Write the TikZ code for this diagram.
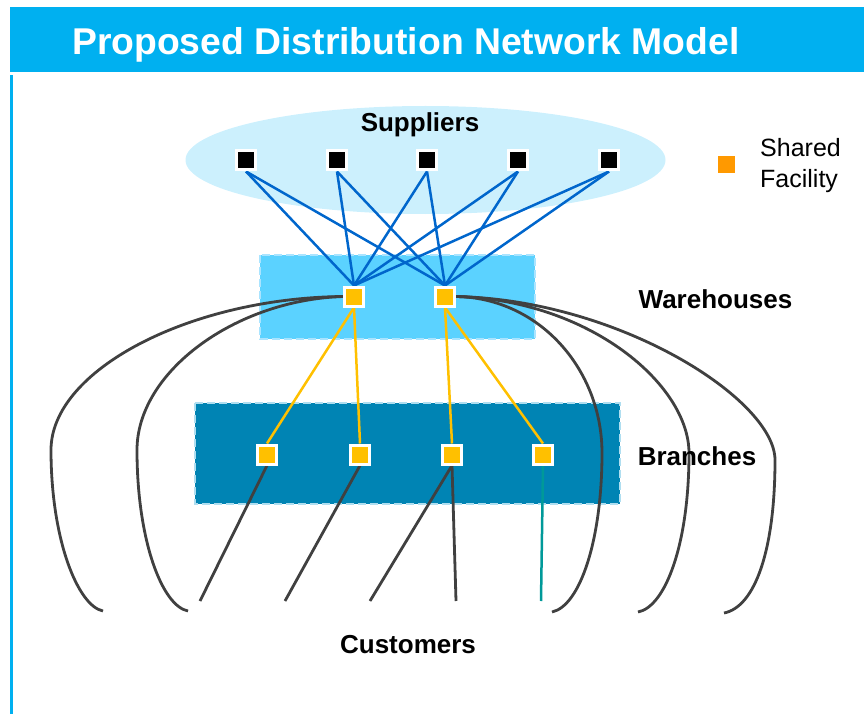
\documentclass[tikz,border=0pt]{standalone}
\usepackage{fontspec}
\setmainfont{Liberation Sans}
\usetikzlibrary{shapes.geometric}

\definecolor{barblue}{RGB}{0,176,240}
\definecolor{suppfill}{RGB}{204,240,253}
\definecolor{whfill}{RGB}{91,210,255}
\definecolor{whdash}{RGB}{170,228,255}
\definecolor{brfill}{RGB}{0,132,180}
\definecolor{brdash}{RGB}{175,222,240}
\definecolor{linkblue}{RGB}{0,102,204}
\definecolor{facility}{RGB}{255,192,0}
\definecolor{legendorange}{RGB}{255,153,0}
\definecolor{darkline}{RGB}{64,64,64}
\definecolor{tealline}{RGB}{0,153,153}

\pgfdeclarelayer{bg}
\pgfdeclarelayer{edges}
\pgfsetlayers{bg,edges,main}

\tikzset{
  supplier/.style={rectangle, fill=black, draw=white, line width=3pt,
    minimum size=19pt, inner sep=0pt},
  site/.style={rectangle, fill=facility, draw=white, line width=3pt,
    minimum size=19pt, inner sep=0pt},
  tierlabel/.style={font=\bfseries\fontsize{26}{30}\selectfont, text=black,
    inner sep=0pt, anchor=base},
  supplylink/.style={draw=linkblue, line width=2.5pt},
  feedlink/.style={draw=facility, line width=2.5pt},
  custlink/.style={draw=darkline, line width=2.8pt},
  directlink/.style={draw=darkline, line width=2.8pt},
  tealink/.style={draw=tealline, line width=2.5pt},
  tierbox/.style={line width=2pt, dash pattern=on 8pt off 4pt},
}

\begin{document}
\begin{tikzpicture}[x=1pt, y=-1pt]
  \useasboundingbox (0,0) rectangle (864,714);

  \begin{pgfonlayer}{bg}
    % header bar and left frame line
    \fill[barblue] (10,7) rectangle (864,72);
    \fill[barblue] (10,75) rectangle (12.5,714);
    % tiers
    \fill[suppfill] (425.5,160) ellipse [x radius=240, y radius=54];
    \filldraw[tierbox, fill=whfill, draw=whdash] (260,255) rectangle (535,339);
    \filldraw[tierbox, fill=brfill, draw=brdash] (195,403) rectangle (620,504);
  \end{pgfonlayer}

  % title
  \node[anchor=base west, inner sep=0pt, text=white,
        font=\bfseries\fontsize{37.3}{42}\selectfont] (title) at (72,55)
        {Proposed Distribution Network Model};

  % tier labels
  \node[tierlabel] (lsup) at (420,132) {Suppliers};
  \node[tierlabel] (lwh)  at (715.5,308) {Warehouses};
  \node[tierlabel] (lbr)  at (697,465) {Branches};
  \node[tierlabel] (lcu)  at (408,653) {Customers};

  % legend
  \node[rectangle, fill=legendorange, minimum size=17pt, inner sep=0pt]
        (legsq) at (726.5,165) {};
  \node[anchor=base west, inner sep=0pt, font=\fontsize{25}{31}\selectfont]
        (legtxt1) at (760,157) {Shared};
  \node[anchor=base west, inner sep=0pt, font=\fontsize{25}{31}\selectfont]
        (legtxt2) at (760,188) {Facility};

  % suppliers
  \foreach \i/\x in {1/246,2/337,3/427,4/518,5/609}
    \node[supplier] (s\i) at (\x,160.5) {};

  % warehouses
  \node[site] (w1) at (354,296.5) {};
  \node[site] (w2) at (445,296.5) {};

  % branches
  \node[site] (b1) at (267,454.5) {};
  \node[site] (b2) at (360,454.5) {};
  \node[site] (b3) at (452,454.5) {};
  \node[site] (b4) at (543,454.5) {};

  % customer end points
  \coordinate (c1) at (200,601);
  \coordinate (c2) at (285,601);
  \coordinate (c3) at (370,601);
  \coordinate (c4) at (456,601);
  \coordinate (c5) at (541,601);
  \coordinate (d1) at (103,611);
  \coordinate (d2) at (188,611);
  \coordinate (d3) at (552,612);
  \coordinate (d4) at (638,612);
  \coordinate (d5) at (724,613);

  \begin{pgfonlayer}{edges}
    % suppliers to warehouses
    \foreach \i in {1,...,5} {
      \draw[supplylink] (s\i.south) -- (w1.north);
      \draw[supplylink] (s\i.south) -- (w2.north);
    }
    % warehouses to branches
    \draw[feedlink] (w1.south) -- (b1.north);
    \draw[feedlink] (w1.south) -- (b2.north);
    \draw[feedlink] (w2.south) -- (b3.north);
    \draw[feedlink] (w2.south) -- (b4.north);
    % branches to customers
    \draw[custlink] (b1.south) -- (c1);
    \draw[custlink] (b2.south) -- (c2);
    \draw[custlink] (b3.south) -- (c3);
    \draw[custlink] (b3.south) -- (c4);
    \draw[tealink]  (b4.south) -- (c5);
    % warehouses delivering directly to customers
    \draw[directlink] (w1.west) .. controls (190,298) and (51,370) .. (51,450)
                                .. controls (51,540) and (78,606) .. (d1);
    \draw[directlink] (w1.west) .. controls (235,300) and (137,372) .. (137,450)
                                .. controls (137,540) and (162,606) .. (d2);
    \draw[directlink] (w2.east) .. controls (540,298) and (602,370) .. (602,453)
                                .. controls (602,540) and (580,606) .. (d3);
    \draw[directlink] (w2.east) .. controls (590,300) and (689,385) .. (689,453)
                                .. controls (689,545) and (665,607) .. (d4);
    \draw[directlink] (w2.east) .. controls (620,300) and (775,400) .. (775,460)
                                .. controls (775,550) and (755,607) .. (d5);
  \end{pgfonlayer}
\end{tikzpicture}
\end{document}
